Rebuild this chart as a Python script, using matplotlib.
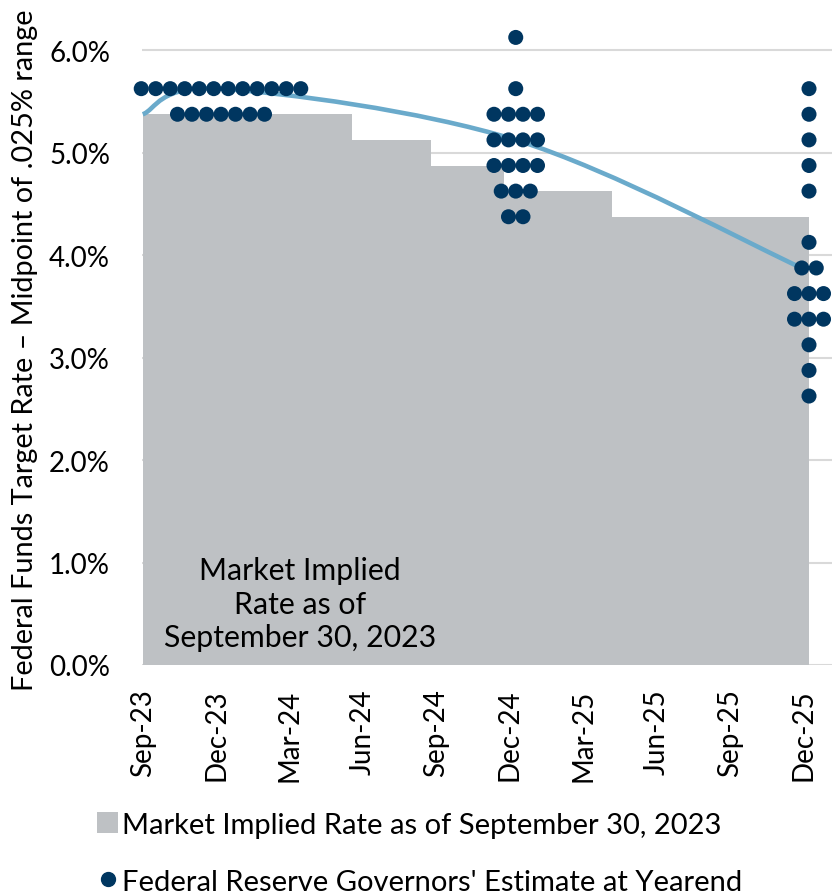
import numpy as np
import matplotlib
matplotlib.use("Agg")
import matplotlib.pyplot as plt
from matplotlib.path import Path
from matplotlib.patches import PathPatch, Patch
from matplotlib.lines import Line2D

plt.rcParams['font.family'] = ['Lato', 'DejaVu Sans']

# x axis: months after Sep-23
tick_months = [0, 3, 6, 9, 12, 15, 18, 21, 24, 27]
tick_labels = ['Sep-23', 'Dec-23', 'Mar-24', 'Jun-24', 'Sep-24',
               'Dec-24', 'Mar-25', 'Jun-25', 'Sep-25', 'Dec-25']

# market implied rate (step area)
market_edges = [0, 8.56, 11.8, 14.77, 19.17, 27.24]
market_rates = [5.375, 5.125, 4.875, 4.625, 4.375]

# Fed governors' dot plot, per yearend: rate levels and number of dots
dot_centers = [3.2, 15.25, 27.24]
dots_2023_levels = [5.625, 5.375]
dots_2023_counts = [12, 7]
dots_2024_levels = [6.125, 5.625, 5.375, 5.125, 4.875, 4.625, 4.375]
dots_2024_counts = [1, 1, 4, 4, 4, 3, 2]
dots_2025_levels = [5.625, 5.375, 5.125, 4.875, 4.625, 4.125,
                    3.875, 3.625, 3.375, 3.125, 2.875, 2.625]
dots_2025_counts = [1, 1, 1, 1, 1, 1, 2, 3, 3, 1, 1, 1]

# smoothed median line through these points
median_x = [0, 3.2, 15.25, 26.94]
median_y = [5.375, 5.625, 5.125, 3.875]

grey = '#BEC1C4'
navy = '#003660'
light_blue = '#6AAACB'
fs = 20

fig = plt.figure(figsize=(8.32, 8.95), dpi=100)
ax = fig.add_axes([142 / 832, 1 - 666 / 895, 1 - 142 / 832, 666 / 895])

ax.stairs(market_rates, market_edges, fill=True, color=grey, zorder=1)

# smooth line as bezier path (Excel style smoothing)
pts = np.column_stack([median_x, median_y])
verts = [tuple(pts[0])]
codes = [Path.MOVETO]
n = len(pts)
for i in range(n - 1):
    p0 = pts[max(i - 1, 0)]
    p1 = pts[i]
    p2 = pts[i + 1]
    p3 = pts[min(i + 2, n - 1)]
    c1 = p1 + (p2 - p0) / 6
    c2 = p2 - (p3 - p1) / 6
    verts += [tuple(c1), tuple(c2), tuple(p2)]
    codes += [Path.CURVE4] * 3
ax.add_patch(PathPatch(Path(verts, codes), fill=False, edgecolor=light_blue,
                       lw=3.3, zorder=2, capstyle='butt'))

spacing = 0.593
for center, levels, counts in zip(dot_centers,
                                  [dots_2023_levels, dots_2024_levels, dots_2025_levels],
                                  [dots_2023_counts, dots_2024_counts, dots_2025_counts]):
    xs, ys = [], []
    for lvl, c in zip(levels, counts):
        for k in range(c):
            xs.append(center + (k - (c - 1) / 2) * spacing)
            ys.append(lvl)
    ax.scatter(xs, ys, s=117, color=navy, edgecolors='none', zorder=3, clip_on=False)

ax.text(6.43, 0.6, 'Market Implied\nRate as of\nSeptember 30, 2023',
        ha='center', va='center', fontsize=21.8, linespacing=1.25, zorder=4)

ax.set_xlim(-0.03, 28.18)
ax.set_ylim(0, 6.5)
ax.set_xticks(tick_months)
ax.set_xticklabels(tick_labels, rotation=90, fontsize=fs)
ax.set_yticks([0, 1, 2, 3, 4, 5, 6])
ax.set_yticklabels([f'{v:.1f}%' for v in range(7)], fontsize=fs)
ax.tick_params(axis='x', length=0, pad=17)
ax.tick_params(axis='y', length=0, pad=23)
ax.yaxis.grid(True, color='#D9D9D9', lw=1.5)
ax.set_axisbelow(True)
for sp in ax.spines.values():
    sp.set_visible(False)

ax.set_ylabel('Federal Funds Target Rate \u2013 Midpoint of .025% range',
              fontsize=20.8, va='center')
ax.yaxis.set_label_coords((25 - 142) / 690, (666 - 350) / 666)

handles = [Patch(facecolor=grey, edgecolor='none'),
           Line2D([], [], marker='o', ls='none', color=navy, markersize=10)]
labels = ['Market Implied Rate as of September 30, 2023',
          "Federal Reserve Governors' Estimate at Yearend"]
fig.legend(handles, labels, loc='upper left', bbox_to_anchor=(97 / 832, 1 - 813 / 895),
           frameon=False, fontsize=21, handlelength=0.72, handleheight=0.72,
           handletextpad=0.15, labelspacing=1.05, borderpad=0, borderaxespad=0)

fig.savefig('out.png', dpi=100)
